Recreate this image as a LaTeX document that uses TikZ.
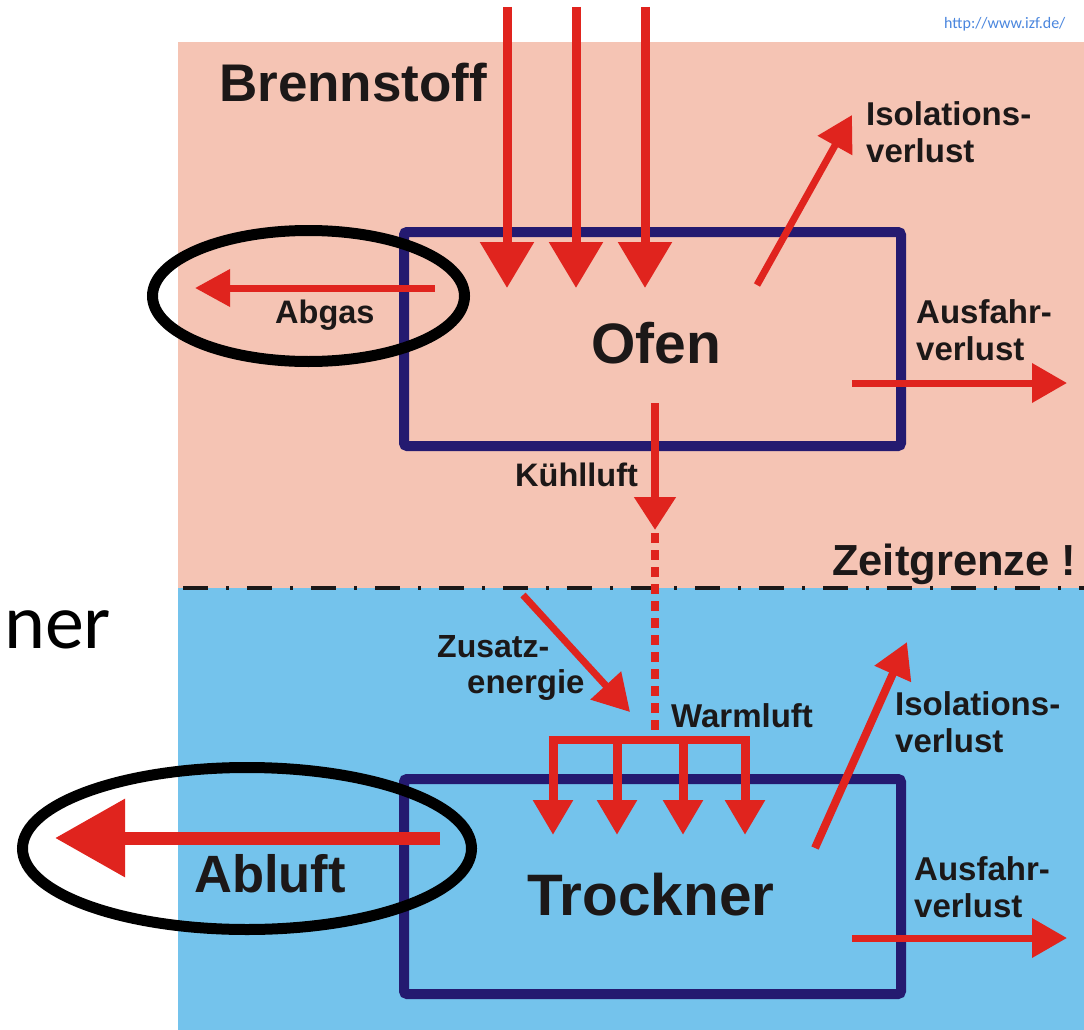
\documentclass[tikz,border=0pt]{standalone}
\usepackage{fontspec}
\setmainfont{Liberation Sans}
\newfontfamily\calib{Carlito}
\usetikzlibrary{arrows.meta}
\definecolor{pinkbg}{RGB}{245,196,180}
\definecolor{bluebg}{RGB}{116,195,236}
\definecolor{navy}{RGB}{36,26,112}
\definecolor{arrred}{RGB}{224,36,30}
\definecolor{txt}{RGB}{28,24,24}
\definecolor{urlblue}{RGB}{74,134,222}
\begin{document}
\begin{tikzpicture}[x=1pt,y=-1pt,
  boxframe/.style={draw=navy,line width=10pt,rounded corners=3pt,inner sep=0pt,fill=none},
  ring/.style={draw=black,line width=11pt},
  bigarrow/.style={draw=arrred,line width=9pt,-{Triangle[width=52pt,length=46pt]}},
  midarrow/.style={draw=arrred,line width=7pt,-{Triangle[width=38pt,length=35pt]}},
  droparrow/.style={draw=arrred,line width=9pt,-{Triangle[width=38pt,length=35pt]}},
  lbl/.style={anchor=base west,inner sep=0pt,text=txt,font=\bfseries\fontsize{#1}{#1}\selectfont},
  lbl/.default=33
]
\useasboundingbox (0,0) rectangle (1084,1030);
% backgrounds
\fill[white] (0,0) rectangle (1084,1030);
\fill[pinkbg] (178,42) rectangle (1084,588);
\fill[bluebg] (178,588) rectangle (1084,1030);

% boundary line
\coordinate (zgL) at (183,588);
\coordinate (zgR) at (1084,588);
\draw[txt,line width=4.5pt,dash pattern=on 25pt off 18pt on 3pt off 18pt] (zgL) -- (zgR);

% boxes
\node[boxframe,minimum width=497pt,minimum height=214pt] (ofenbox) at (652.5,339) {};
\node[boxframe,minimum width=497pt,minimum height=215pt] (trockbox) at (652.5,886.5) {};

% coordinates for arrows
\coordinate (b1s) at (507,7);   \coordinate (b1e) at (507,288);
\coordinate (b2s) at (576,7);   \coordinate (b2e) at (576,288);
\coordinate (b3s) at (645,7);   \coordinate (b3e) at (645,288);
\coordinate (abgS) at (435,288); \coordinate (abgE) at (195,288);
\coordinate (iso1S) at (757,285); \coordinate (iso1E) at (852,115);
\coordinate (aus1S) at (852,383); \coordinate (aus1E) at (1067,383);
\coordinate (kuehlS) at (655,403); \coordinate (kuehlE) at (655,530);
\coordinate (dashS) at (655,533); \coordinate (barM) at (655,740);
\coordinate (zusS) at (523,595); \coordinate (zusE) at (630,712);
\coordinate (barL) at (548.5,740); \coordinate (barR) at (749.5,740);
\coordinate (d1s) at (553,740); \coordinate (d1e) at (553,835);
\coordinate (d2s) at (617,740); \coordinate (d2e) at (617,835);
\coordinate (d3s) at (683,740); \coordinate (d3e) at (683,835);
\coordinate (d4s) at (745,740); \coordinate (d4e) at (745,835);
\coordinate (iso2S) at (815,848); \coordinate (iso2E) at (907,642);
\coordinate (aus2S) at (852,938); \coordinate (aus2E) at (1067,938);
\coordinate (ablS) at (440,838); \coordinate (ablE) at (55,838);

% Ofen arrows
\draw[bigarrow] (b1s) -- (b1e);
\draw[bigarrow] (b2s) -- (b2e);
\draw[bigarrow] (b3s) -- (b3e);
\draw[draw=arrred,line width=7pt,-{Triangle[width=36pt,length=35pt]}] (abgS) -- (abgE);
\draw[midarrow] (iso1S) -- (iso1E);
\draw[midarrow] (aus1S) -- (aus1E);
\draw[draw=arrred,line width=8pt,-{Triangle[width=40pt,length=33pt]}] (kuehlS) -- (kuehlE);
\draw[arrred,line width=8pt,dash pattern=on 10pt off 7pt] (dashS) -- (barM);

% Trockner arrows
\draw[draw=arrred,line width=7pt,-{Triangle[width=40pt,length=36pt]}] (zusS) -- (zusE);
\draw[arrred,line width=8pt] (barL) -- (barR);
\draw[droparrow] (d1s) -- (d1e);
\draw[droparrow] (d2s) -- (d2e);
\draw[droparrow] (d3s) -- (d3e);
\draw[droparrow] (d4s) -- (d4e);
\draw[draw=arrred,line width=8pt,-{Triangle[width=38pt,length=35pt]}] (iso2S) -- (iso2E);
\draw[midarrow] (aus2S) -- (aus2E);
\draw[draw=arrred,line width=13pt,-{Triangle[width=75pt,length=70pt]}] (ablS) -- (ablE);

% highlight ellipses
\draw[ring] (308.5,296) ellipse [x radius=156pt, y radius=65.5pt];
\draw[ring] (247,848.5) ellipse [x radius=224.5pt, y radius=81pt];

% texts
\node[lbl=53] (brenn) at (219,102) {Brennstoff};
\node[lbl=32.5] (abgas) at (275,323) {Abgas};
\node[lbl=57] (ofen) at (591,363) {Ofen};
\node[lbl] (iso1a) at (866,125) {Isolations-};
\node[lbl] (iso1b) at (866,162) {verlust};
\node[lbl] (aus1a) at (916,323) {Ausfahr-};
\node[lbl] (aus1b) at (916,360) {verlust};
\node[lbl=32.5] (kuehl) at (515,486) {Kühlluft};
\node[lbl=43.5] (zeit) at (832,575) {Zeitgrenze !};
\node[lbl=32] (zus1) at (437,657) {Zusatz-};
\node[lbl] (zus2) at (467,693) {energie};
\node[lbl] (warm) at (671,727) {Warmluft};
\node[lbl] (iso2a) at (895,715) {Isolations-};
\node[lbl] (iso2b) at (895,752) {verlust};
\node[lbl=52.5] (abluft) at (194,892) {Abluft};
\node[lbl=58.5] (trock) at (527,915) {Trockner};
\node[lbl] (aus2a) at (914,880) {Ausfahr-};
\node[lbl] (aus2b) at (914,917) {verlust};
\node[anchor=base west,inner sep=0pt,text=black,font=\calib\fontsize{78}{78}\selectfont] (ner) at (4,648) {ner};
\node[anchor=base west,inner sep=0pt,text=urlblue,font=\calib\fontsize{16}{16}\selectfont] (url) at (944,29) {http://www.izf.de/};
\end{tikzpicture}
\end{document}
